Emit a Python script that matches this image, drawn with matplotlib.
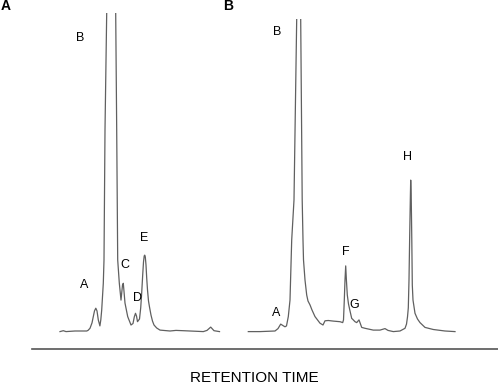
import matplotlib
matplotlib.use("Agg")
import matplotlib.pyplot as plt

plt.rcParams['font.family'] = ['Liberation Sans', 'DejaVu Sans']

# panel A trace: retention time (min) and detector response (arb. units)
time_a = [0.5, 0.83, 1.1, 2.0, 3.17, 3.3, 3.5, 3.7, 3.83, 3.95, 4.08, 4.2, 4.33, 4.49,
          4.58, 4.67, 4.83, 4.9, 5.0, 5.17, 5.62, 6.07, 6.17, 6.27, 6.43, 6.60, 6.75,
          6.83, 7.0, 7.27, 7.6, 7.8, 7.93, 8.05, 8.15, 8.25, 8.45, 8.57, 8.67, 8.77,
          8.85, 8.92, 8.97, 9.03, 9.1, 9.17, 9.25, 9.35, 9.45, 9.6, 9.75, 9.9, 10.17,
          10.5, 11.5, 12.1, 12.83, 13.5, 14.83, 15.2, 15.57, 15.9, 16.45]
resp_a = [-0.2, 0.1, -0.2, 0.0, 0.0, 0.2, 0.9, 2.7, 4.8, 6.7, 7.6, 6.7, 3.7, 1.7,
          3.7, 7.0, 15.9, 23.7, 67.0, 106.0, 150.0, 106.0, 67.0, 23.7, 16.0, 10.3, 15.3,
          15.9, 9.3, 4.8, 2.0, 2.5, 4.7, 5.9, 5.0, 3.1, 4.0, 7.7, 12.7, 18.7,
          23.0, 25.0, 25.3, 24.7, 22.0, 17.7, 13.7, 10.0, 8.0, 5.3, 3.3, 2.0, 1.0,
          0.3, 0.0, 0.2, 0.1, 0.0, -0.2, 0.2, 1.3, 0.1, -0.2]

# panel B trace
time_b = [0.33, 1.5, 3.0, 3.3, 3.57, 3.8, 4.0, 4.15, 4.33, 4.5, 4.67, 4.9, 5.17, 5.37,
          5.57, 5.72, 5.8, 5.85, 6.0, 6.17, 6.3, 6.5, 6.7, 7.0, 7.5, 7.8, 8.0, 8.33,
          8.83, 9.5, 9.77, 9.85, 9.93, 10.0, 10.07, 10.14, 10.23, 10.35, 10.5, 10.67,
          10.77, 11.0, 11.17, 11.4, 11.67, 12.0, 12.83, 13.5, 14.0, 14.3, 14.83, 15.5,
          16.0, 16.15, 16.25, 16.33, 16.4, 16.47, 16.54, 16.57, 16.62, 16.68, 16.73,
          16.8, 17.0, 17.25, 17.5, 18.0, 18.83, 20.0, 21.0]
resp_b = [-0.2, -0.2, 0.0, 0.8, 2.3, 1.8, 1.4, 1.7, 4.8, 10.3, 30.3, 43.7, 104.0, 125.0,
          104.0, 43.7, 30.3, 23.7, 17.0, 12.0, 10.0, 8.7, 7.0, 4.8, 2.6, 2.0, 3.4, 3.5,
          3.3, 3.1, 2.8, 3.7, 10.3, 17.0, 21.7, 17.0, 12.0, 9.0, 6.7, 4.2,
          3.9, 3.1, 2.8, 3.7, 1.2, 0.9, 0.3, 0.3, 0.8, 0.2, -0.2, 0.0,
          0.9, 2.3, 4.7, 7.7, 17.0, 32.0, 45.3, 50.3, 45.3, 30.3, 15.3,
          10.3, 5.9, 4.0, 2.8, 1.2, 0.5, 0.0, -0.2]

# peak labels
labels_a = ["B", "A", "C", "D", "E"]
label_time_a = [2.5, 2.9, 6.97, 8.27, 8.93]
label_resp_a = [97.7, 15.3, 22.0, 11.0, 31.0]

labels_b = ["B", "A", "F", "G", "H"]
label_time_b = [3.23, 3.1, 10.07, 10.9, 16.27]
label_resp_b = [99.8, 5.9, 26.4, 8.7, 57.9]

W, H = 498, 384
fig = plt.figure(figsize=(W / 100, H / 100), dpi=100)

trace_color = "#606060"


def panel(left, top, width, xmax, ymax, t, r, labs, lt, lr):
    bottom = 340
    ax = fig.add_axes([left / W, (H - bottom) / H, width / W, (bottom - top) / H])
    ax.plot(t, r, color=trace_color, lw=0.9, solid_joinstyle="round")
    for s, x, y in zip(labs, lt, lr):
        ax.text(x, y, s, fontsize=9, ha="center", va="center")
    ax.set_xlim(0, xmax)
    ax.set_ylim(-3, ymax)
    ax.axis("off")
    return ax


panel(55, 13, 175, 17.5, 106, time_a, resp_a, labels_a, label_time_a, label_resp_a)
panel(245, 19, 215, 21.5, 104, time_b, resp_b, labels_b, label_time_b, label_resp_b)

# shared retention time axis
ax_t = fig.add_axes([32 / W, (H - 349) / H, 1 - 32 / W, 0.001])
ax_t.set_xticks([])
ax_t.set_yticks([])
for side in ["top", "left", "right"]:
    ax_t.spines[side].set_visible(False)
ax_t.spines["bottom"].set_color("#555555")
ax_t.spines["bottom"].set_linewidth(1.2)
ax_t.patch.set_visible(False)

fig.text(254 / W, 1 - 378 / H, "RETENTION TIME", fontsize=11, ha="center", va="center")
fig.text(6 / W, 1 - 6 / H, "A", fontsize=10, fontweight="bold", ha="center", va="center")
fig.text(228 / W, 1 - 6 / H, "B", fontsize=10, fontweight="bold", ha="center", va="center")

fig.savefig("out.png", dpi=100)
